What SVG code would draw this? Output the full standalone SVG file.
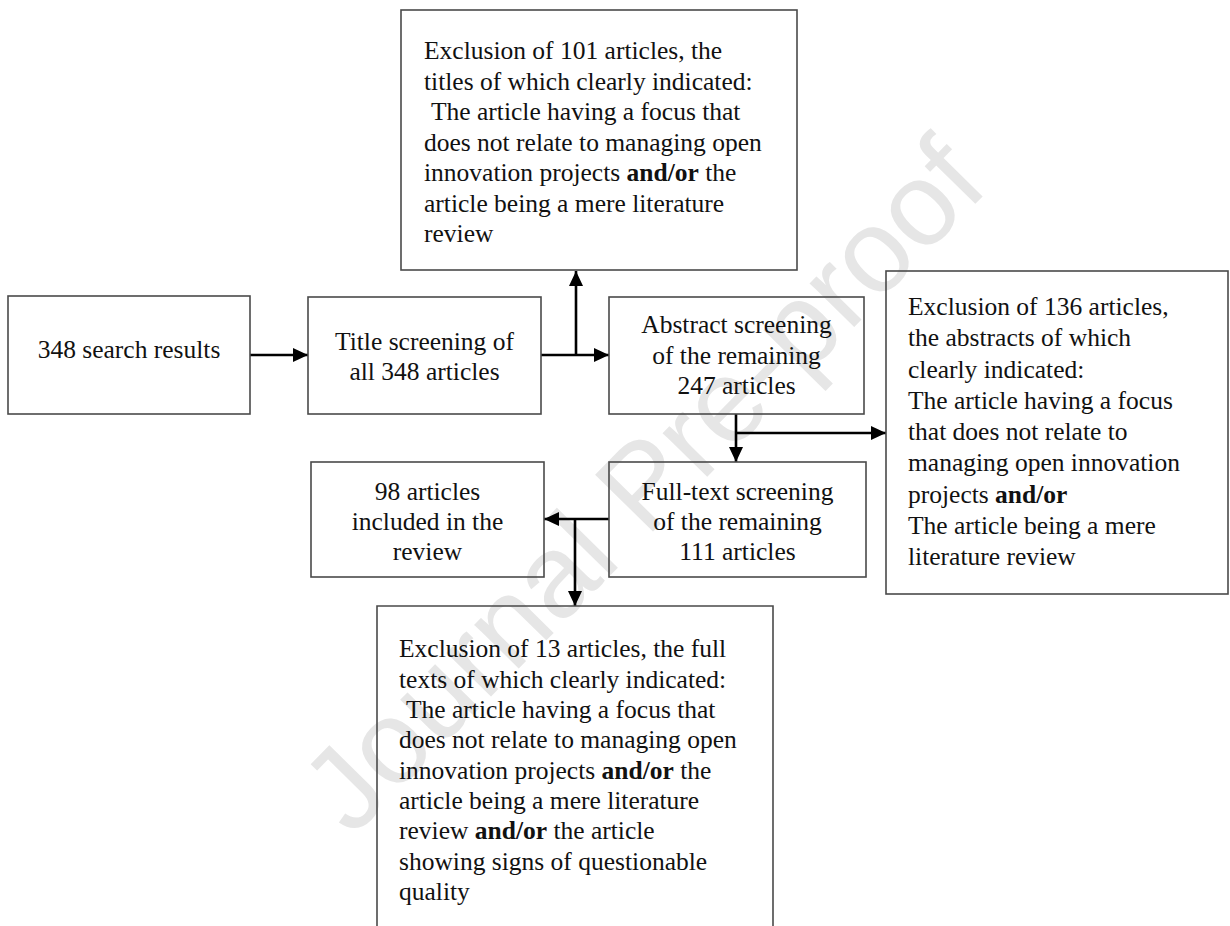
<svg xmlns="http://www.w3.org/2000/svg" width="1230" height="926" viewBox="0 0 1230 926">
<style>
.bg{fill:#ffffff}
.box{fill:none;stroke:#4a4a4a;stroke-width:1.6}
.t{font-family:"Liberation Serif","Times New Roman",serif;font-size:25.5px;fill:#111}
.c{text-anchor:middle}
.b{font-weight:bold}
.conn{fill:none;stroke:#000;stroke-width:2.6}
.wm{font-family:"Liberation Sans",Arial,sans-serif;font-size:118px;fill:#e6e6e6}
</style>
<defs>
<marker id="ah" markerUnits="userSpaceOnUse" markerWidth="16" markerHeight="14" refX="15" refY="7" orient="auto">
<path d="M0,0 L15,7 L0,14 Z" fill="#000"/>
</marker>
</defs>
<rect class="bg" x="0" y="0" width="1230" height="926"/>
<text class="wm" transform="translate(352,838) rotate(-45.5)">Journal Pre-proof</text>

<g id="connectors">
<line class="conn" x1="250" y1="355" x2="308" y2="355" marker-end="url(#ah)"/>
<line class="conn" x1="541" y1="355" x2="609" y2="355" marker-end="url(#ah)"/>
<line class="conn" x1="576" y1="355" x2="576" y2="271" marker-end="url(#ah)"/>
<line class="conn" x1="736" y1="414" x2="736" y2="462" marker-end="url(#ah)"/>
<line class="conn" x1="736" y1="433" x2="886" y2="433" marker-end="url(#ah)"/>
<line class="conn" x1="609" y1="519" x2="544" y2="519" marker-end="url(#ah)"/>
<line class="conn" x1="575" y1="519" x2="575" y2="606" marker-end="url(#ah)"/>
</g>

<g id="search">
<rect class="box" x="8" y="296" width="242" height="118"/>
<text class="t c" x="129" y="358">348 search results</text>
</g>

<g id="title">
<rect class="box" x="308" y="297" width="233" height="117"/>
<text class="t c" x="424.5" y="350">Title screening of</text>
<text class="t c" x="424.5" y="380">all 348 articles</text>
</g>

<g id="abstract">
<rect class="box" x="609" y="297" width="255" height="117"/>
<text class="t c" x="736.5" y="333">Abstract screening</text>
<text class="t c" x="736.5" y="364">of the remaining</text>
<text class="t c" x="736.5" y="394">247 articles</text>
</g>

<g id="excl-title">
<rect class="box" x="401" y="10" width="396" height="260"/>
<text class="t" x="424" y="59">Exclusion of 101 articles, the</text>
<text class="t" x="424" y="89.5">titles of which clearly indicated:</text>
<text class="t" x="431" y="120">The article having a focus that</text>
<text class="t" x="424" y="150.5">does not relate to managing open</text>
<text class="t" x="424" y="181">innovation projects <tspan class="b">and/or</tspan> the</text>
<text class="t" x="424" y="211.5">article being a mere literature</text>
<text class="t" x="424" y="242">review</text>
</g>

<g id="excl-abstract">
<rect class="box" x="886" y="271" width="342" height="323"/>
<text class="t" x="908" y="315">Exclusion of 136 articles,</text>
<text class="t" x="908" y="346">the abstracts of which</text>
<text class="t" x="908" y="377.5">clearly indicated:</text>
<text class="t" x="908" y="409">The article having a focus</text>
<text class="t" x="908" y="440">that does not relate to</text>
<text class="t" x="908" y="471">managing open innovation</text>
<text class="t" x="908" y="502.5">projects <tspan class="b">and/or</tspan></text>
<text class="t" x="908" y="534">The article being a mere</text>
<text class="t" x="908" y="565">literature review</text>
</g>

<g id="fulltext">
<rect class="box" x="609" y="462" width="257" height="115"/>
<text class="t c" x="737.5" y="500">Full-text screening</text>
<text class="t c" x="737.5" y="530">of the remaining</text>
<text class="t c" x="737.5" y="560">111 articles</text>
</g>

<g id="included">
<rect class="box" x="311" y="462" width="233" height="115"/>
<text class="t c" x="427.5" y="500">98 articles</text>
<text class="t c" x="427.5" y="530">included in the</text>
<text class="t c" x="427.5" y="560">review</text>
</g>

<g id="excl-fulltext">
<path class="box" d="M377,928 V606 H773 V928"/>
<text class="t" x="399" y="657">Exclusion of 13 articles, the full</text>
<text class="t" x="399" y="687.5">texts of which clearly indicated:</text>
<text class="t" x="406" y="718">The article having a focus that</text>
<text class="t" x="399" y="748">does not relate to managing open</text>
<text class="t" x="399" y="778.5">innovation projects <tspan class="b">and/or</tspan> the</text>
<text class="t" x="399" y="809">article being a mere literature</text>
<text class="t" x="399" y="839">review <tspan class="b">and/or</tspan> the article</text>
<text class="t" x="399" y="869.5">showing signs of questionable</text>
<text class="t" x="399" y="900">quality</text>
</g>
</svg>
